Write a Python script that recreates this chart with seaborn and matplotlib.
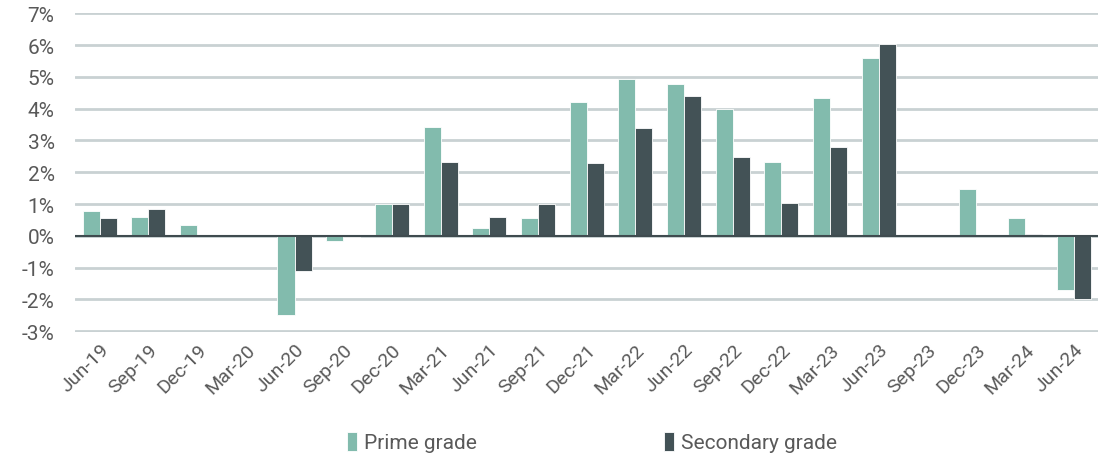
import pandas as pd
import numpy as np
import seaborn as sns
import matplotlib.pyplot as plt
from matplotlib.ticker import FuncFormatter

# quarterly values (%)
quarters = ['Jun-19', 'Sep-19', 'Dec-19', 'Mar-20', 'Jun-20', 'Sep-20', 'Dec-20',
            'Mar-21', 'Jun-21', 'Sep-21', 'Dec-21', 'Mar-22', 'Jun-22', 'Sep-22',
            'Dec-22', 'Mar-23', 'Jun-23', 'Sep-23', 'Dec-23', 'Mar-24', 'Jun-24']
prime = [0.78, 0.59, 0.35, 0.0, -2.49, -0.17, 1.0, 3.43, 0.26, 0.55, 4.21,
         4.94, 4.77, 4.0, 2.33, 4.34, 5.59, 0.0, 1.46, 0.55, -1.69]
secondary = [0.57, 0.86, 0.01, 0.0, -1.10, -0.02, 1.0, 2.33, 0.58, 1.01, 2.30,
             3.40, 4.41, 2.47, 1.04, 2.79, 6.03, 0.0, 0.0, 0.06, -2.0]
series_names = ['Prime grade', 'Secondary grade']
colors = ['#82bbad', '#435256']

df = pd.DataFrame({'quarter': quarters * 2,
                   'value': prime + secondary,
                   'grade': [series_names[0]] * len(quarters) + [series_names[1]] * len(quarters)})

sns.set_style('white')
plt.rcParams['font.family'] = ['Roboto', 'DejaVu Sans']

fig, ax = plt.subplots(figsize=(11.09, 4.56), dpi=100)
fig.subplots_adjust(left=0.068, right=0.99, top=0.97, bottom=0.27)

sns.barplot(data=df, x='quarter', y='value', hue='grade', palette=colors,
            width=0.7, ax=ax, edgecolor='white', linewidth=0.6, saturation=1)

ax.set_ylim(-3.02, 7.02)
ax.set_yticks(range(-3, 8))
ax.yaxis.set_major_formatter(FuncFormatter(lambda v, p: f'{v:.0f}%'))
ax.grid(axis='y', color='#c9d1d3', linewidth=2)
ax.set_axisbelow(True)
ax.axhline(0, color='#3f4b4f', linewidth=1.5, zorder=1)
ax.set_xlim(-0.5, len(quarters) - 0.5)
sns.despine(ax=ax, left=True, bottom=True)
ax.tick_params(axis='both', length=0, labelcolor='#595959')
ax.tick_params(axis='y', pad=15, labelsize=15)
ax.tick_params(axis='x', pad=6, labelsize=14)
plt.setp(ax.get_xticklabels(), rotation=45, ha='right', rotation_mode='anchor')
ax.set_xlabel('')
ax.set_ylabel('')

ax.legend(loc='upper center', bbox_to_anchor=(0.505, -0.255), ncol=2, frameon=False,
          fontsize=15, handlelength=0.5, handleheight=1.0, handletextpad=0.3,
          columnspacing=9, labelcolor='#595959')

plt.savefig('out.png', dpi=100)
